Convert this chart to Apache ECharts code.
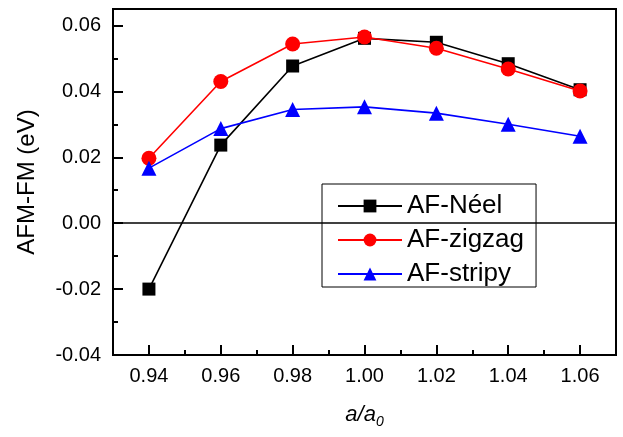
<!DOCTYPE html>
<html><head><meta charset="utf-8">
<script src="https://cdn.jsdelivr.net/npm/echarts@6/dist/echarts.min.js"></script>
<style>html,body{margin:0;padding:0;background:#fff}#c{width:623px;height:437px}</style>
</head><body><div id="c"></div>
<script>
const categories = ['0.94','0.96','0.98','1.00','1.02','1.04','1.06'];
const neel   = [-0.0200, 0.0237, 0.0477, 0.0561, 0.0549, 0.0484, 0.0405];
const zigzag = [ 0.0197, 0.0430, 0.0544, 0.0565, 0.0531, 0.0468, 0.0401];
const stripy = [ 0.0167, 0.0287, 0.0345, 0.0353, 0.0334, 0.0300, 0.0264];
const yTicks = [-0.04, -0.02, 0.00, 0.02, 0.04, 0.06];
const names = ['AF-N\u00e9el', 'AF-zigzag', 'AF-stripy'];

const FONT = 'Liberation Sans';
const chart = echarts.init(document.getElementById('c'), null, {renderer:'canvas'});
const base = {type:'line', xAxisIndex:0, yAxisIndex:0, lineStyle:{width:1.6}, z:5};
chart.setOption({
  animation:false,
  textStyle:{fontFamily:FONT},
  grid:{left:113, right:7, top:9, bottom:82, show:true, borderColor:'#000', borderWidth:2, backgroundColor:'transparent'},
  legend:{
    orient:'vertical', left:322, top:184,
    padding:[9, 12, 0, 15], itemGap:8, itemWidth:64, itemHeight:16,
    borderColor:'#000', borderWidth:1, backgroundColor:'#fff',
    textStyle:{fontFamily:FONT, fontSize:26, color:'#000'},
    data:names
  },
  xAxis:[
    {type:'category', data:categories, boundaryGap:true,
     name:'{i|a/a}{s|0}', nameLocation:'middle', nameGap:46,
     nameTextStyle:{rich:{i:{fontFamily:FONT, fontStyle:'italic', fontSize:22, color:'#000'},
                          s:{fontFamily:FONT, fontStyle:'italic', fontSize:14, color:'#000', verticalAlign:'bottom', padding:[14,0,0,0]}}},
     axisLine:{show:true, onZero:false, lineStyle:{color:'#000', width:2}},
     axisTick:{show:true, inside:true, alignWithLabel:true, length:10, lineStyle:{color:'#000', width:2}},
     axisLabel:{show:true, fontFamily:FONT, fontSize:20, color:'#000', margin:11},
     splitLine:{show:false}},
    {type:'category', data:categories, boundaryGap:true, position:'bottom',
     axisLine:{show:false, onZero:false},
     axisTick:{show:true, inside:true, alignWithLabel:false, length:5, lineStyle:{color:'#000', width:2}},
     axisLabel:{show:false}, splitLine:{show:false}}
  ],
  yAxis:[
    {type:'value', min:-0.04, max:0.065, interval:0.02,
     name:'AFM-FM (eV)', nameLocation:'middle', nameGap:74,
     nameTextStyle:{fontFamily:FONT, fontSize:24, color:'#000'},
     axisLine:{show:true, onZero:false, lineStyle:{color:'#000', width:2}},
     axisTick:{show:true, inside:true, length:10, lineStyle:{color:'#000', width:2}},
     axisLabel:{show:true, fontFamily:FONT, fontSize:20, color:'#000', margin:12, showMaxLabel:false,
       formatter:v => yTicks.some(t => Math.abs(t - v) < 1e-9) ? v.toFixed(2) : ''},
     splitLine:{show:false}},
    {type:'value', min:-0.04, max:0.065, interval:0.01, position:'left',
     axisLine:{show:false, onZero:false},
     axisTick:{show:true, inside:true, length:5, lineStyle:{color:'#000', width:2}},
     axisLabel:{show:false}, splitLine:{show:false}}
  ],
  series:[
    Object.assign({}, base, {name:names[0], data:neel, color:'#000', symbol:'rect', symbolSize:13,
      markLine:{silent:true, symbol:'none', label:{show:false}, lineStyle:{color:'#000', width:1.5, type:'solid'}, data:[{yAxis:0}]}}),
    Object.assign({}, base, {name:names[1], data:zigzag, color:'#ff0000', symbol:'circle', symbolSize:15}),
    Object.assign({}, base, {name:names[2], data:stripy, color:'#0000ff', symbol:'triangle', symbolSize:15})
  ]
});
</script></body></html>
